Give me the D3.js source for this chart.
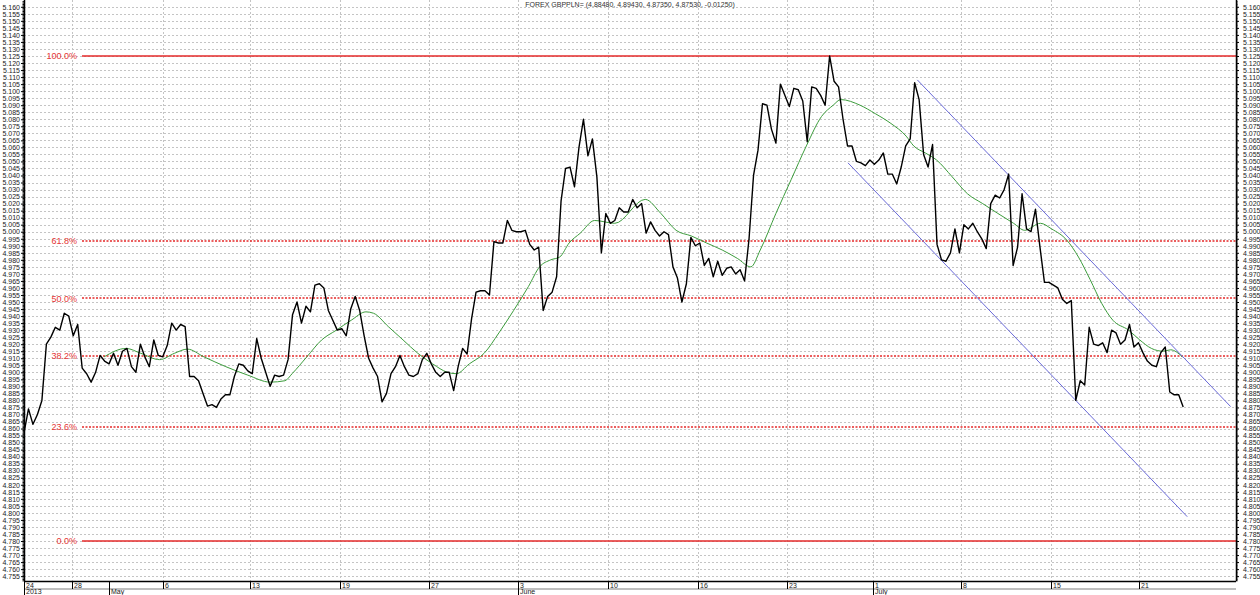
<!DOCTYPE html>
<html>
<head>
<meta charset="utf-8">
<title>FOREX GBPPLN=</title>
<script src="https://d3js.org/d3.v7.min.js"></script>
<style>
  body { margin: 0; background: #fff; }
  text { font-family: "Liberation Sans", Arial, sans-serif; }
</style>
</head>
<body>
<div id="chartContainer"></div>
<script>
var chartTitle = "FOREX GBPPLN= (4.88480, 4.89430, 4.87350, 4.87530, -0.01250)";

// close price, one value per bar (about 4 bars per trading day)
var closePrices = [
  4.857, 4.874, 4.863, 4.870, 4.880, 4.920, 4.925, 4.932, 4.930, 4.942,
  4.940, 4.926, 4.934, 4.903, 4.899, 4.893, 4.900, 4.912, 4.908, 4.906,
  4.9135, 4.905, 4.915, 4.917, 4.904, 4.900, 4.920, 4.911, 4.904, 4.923,
  4.912, 4.911, 4.919, 4.935, 4.930, 4.934, 4.9325, 4.897, 4.897, 4.894,
  4.885, 4.876, 4.877, 4.875, 4.881, 4.884, 4.884, 4.897, 4.906, 4.905,
  4.901, 4.899, 4.924, 4.910, 4.900, 4.890, 4.898, 4.897, 4.898, 4.909,
  4.941, 4.950, 4.935, 4.947, 4.943, 4.962, 4.963, 4.960, 4.944, 4.937,
  4.930, 4.931, 4.926, 4.945, 4.954, 4.944, 4.926, 4.910, 4.903, 4.897,
  4.879, 4.885, 4.899, 4.904, 4.912, 4.904, 4.898, 4.897, 4.899, 4.909,
  4.9135, 4.906, 4.900, 4.897, 4.900, 4.900, 4.887, 4.904, 4.917, 4.913,
  4.938, 4.957, 4.958, 4.958, 4.955, 4.993, 4.992, 4.992, 5.008, 5.001,
  5.000, 5.000, 5.001, 4.991, 4.987, 4.989, 4.944, 4.954, 4.957, 4.968,
  5.022, 5.045, 5.046, 5.032, 5.060, 5.080, 5.054, 5.066, 5.039, 4.985,
  5.013, 5.006, 5.008, 5.017, 5.014, 5.014, 5.023, 5.017, 5.020, 4.999,
  5.007, 5.001, 4.997, 5.000, 4.998, 4.975, 4.967, 4.950, 4.963, 4.996,
  4.990, 4.992, 4.976, 4.981, 4.968, 4.979, 4.969, 4.974, 4.975, 4.970,
  4.973, 4.965, 4.995, 5.040, 5.058, 5.091, 5.090, 5.073, 5.063, 5.105,
  5.097, 5.089, 5.102, 5.101, 5.093, 5.064, 5.103, 5.102, 5.097, 5.090,
  5.125, 5.107, 5.103, 5.080, 5.061, 5.061, 5.050, 5.049, 5.047, 5.051,
  5.048, 5.051, 5.056, 5.041, 5.041, 5.034, 5.046, 5.061, 5.066, 5.106,
  5.094, 5.055, 5.046, 5.062, 4.991, 4.980, 4.979, 4.985, 5.002, 4.985,
  5.005, 5.002, 5.006, 5.000, 4.995, 4.988, 5.020, 5.026, 5.024, 5.030,
  5.041, 4.976, 4.989, 5.027, 5.002, 5.000, 5.016, 4.989, 4.964, 4.964,
  4.962, 4.960, 4.952, 4.949, 4.951, 4.880, 4.894, 4.891, 4.932, 4.920,
  4.919, 4.921, 4.914, 4.930, 4.928, 4.920, 4.923, 4.934, 4.918, 4.921,
  4.914, 4.908, 4.905, 4.904, 4.914, 4.918, 4.886, 4.884, 4.884, 4.8753
];

// green moving average at these bars
var maBars = [17.9, 22.8, 26.1, 30.3, 33.6, 36.5, 40.2, 45.1, 50.0, 55.0,
  58.3, 59.9, 63.2, 66.5, 69.8, 73.1, 76.4, 78.1, 81.4, 84.7,
  88.0, 91.3, 94.6, 96.6, 99.5, 102.8, 106.1, 109.4, 112.7, 115.2,
  117.7, 119.7, 121.8, 124.3, 127.5, 132.0, 138.8, 142.3, 145.7, 149.1,
  152.5, 156.0, 159.4, 162.4, 164.5, 168.0, 171.4, 174.8, 178.2, 180.8,
  182.5, 186.8, 190.2, 193.7, 197.1, 198.8, 201.4, 203.9, 207.4, 210.8,
  214.2, 217.6, 221.1, 223.6, 227.1, 229.6, 233.0, 235.6, 238.2, 240.8,
  243.3, 246.8, 249.3, 251.9, 254.5, 256.2, 258.8];
var maValues = [4.911, 4.917, 4.9135, 4.909, 4.9135, 4.9165, 4.911, 4.904, 4.898, 4.893,
  4.894, 4.899, 4.911, 4.923, 4.930, 4.937, 4.943, 4.942, 4.9325, 4.923,
  4.9135, 4.906, 4.900, 4.899, 4.906, 4.9135, 4.928, 4.944, 4.961, 4.975,
  4.980, 4.982, 4.992, 4.999, 5.008, 5.006, 5.023, 5.013, 5.001, 4.997,
  4.992, 4.987, 4.981, 4.975, 4.987, 5.013, 5.037, 5.061, 5.082, 5.090,
  5.094, 5.090, 5.084, 5.077, 5.068, 5.061, 5.056, 5.051, 5.039, 5.027,
  5.020, 5.013, 5.006, 5.001, 5.006, 5.002, 4.994, 4.982, 4.966, 4.949,
  4.937, 4.930, 4.923, 4.917, 4.915, 4.916, 4.911];

// fibonacci retracement between these two prices
var fibLow = 4.780, fibHigh = 5.125;
var fibRatios = [0, 0.236, 0.382, 0.5, 0.618, 1];
var fibLabels = ["0.0%", "23.6%", "38.2%", "50.0%", "61.8%", "100.0%"];

// falling channel (blue), two end points each
var channelUpperBars = [199.6, 269.6];
var channelUpperValues = [5.108, 4.8756];
var channelLowerBars = [184.1, 259.9];
var channelLowerValues = [5.049, 4.7973];

// x axis ticks
var weekTickBars = [0, 10.7, 31.1, 50.6, 70.6, 90.5, 110.4, 130.4, 150.5, 170.4, 189.8, 209.4, 229.4, 249.2];
var weekTickLabels = ["24", "28", "6", "13", "19", "27", "3", "10", "16", "23", "1", "8", "15", "21"];
var monthTickBars = [0, 19.0, 110.4, 189.8];
var monthTickLabels = ["2013", "May", "June", "July"];

// y axis ticks
var yTickFirst = 4.755, yTickLast = 5.160, yTickStep = 0.005, yMinorStep = 0.001;

var cfg = {
  w: 1260,
  h: 595,
  left: 24,
  right: 1236,
  top: 0,
  bot: 581,
  barMax: 270.8,
  yMin: 4.75155,
  yMax: 5.16483
};

function translate(x, y) {
  return "translate(" + x + "," + y + ")";
}

var svg = d3.select("#chartContainer")
  .append("svg")
  .attr("width", cfg.w)
  .attr("height", cfg.h)
  .style("display", "block");

var xScale = d3.scaleLinear()
  .domain([0, cfg.barMax])
  .range([cfg.left, cfg.right]);

var yScale = d3.scaleLinear()
  .domain([cfg.yMin, cfg.yMax])
  .range([cfg.bot, cfg.top]);

var yTicks = d3.range(Math.round(yTickFirst * 1000), Math.round(yTickLast * 1000) + 1, yTickStep * 1000)
  .map(function(d) { return d / 1000; });
var yMinor = d3.range(Math.round(4.752 * 1000), Math.round(5.164 * 1000) + 1, yMinorStep * 1000)
  .map(function(d) { return d / 1000; });

// grid
var grid = svg.append("g").attr("class", "grid");

grid.selectAll(".hGrid")
  .data(yTicks)
  .enter()
  .append("line")
  .attr("class", "hGrid")
  .attr("x1", cfg.left)
  .attr("x2", cfg.right)
  .attr("y1", function(d) { return Math.round(yScale(d)) + 0.5; })
  .attr("y2", function(d) { return Math.round(yScale(d)) + 0.5; })
  .style("stroke", "#c4c4c4")
  .style("stroke-width", 1)
  .style("stroke-dasharray", "2,2");

grid.selectAll(".vGrid")
  .data(weekTickBars.slice(1))
  .enter()
  .append("line")
  .attr("class", "vGrid")
  .attr("x1", function(d) { return Math.round(xScale(d)) + 0.5; })
  .attr("x2", function(d) { return Math.round(xScale(d)) + 0.5; })
  .attr("y1", cfg.top)
  .attr("y2", cfg.bot)
  .style("stroke", "#c4c4c4")
  .style("stroke-width", 1)
  .style("stroke-dasharray", "2,2");

// title
svg.append("text")
  .attr("x", 630)
  .attr("y", 7)
  .attr("text-anchor", "middle")
  .style("font-size", "7px")
  .style("fill", "#333")
  .text(chartTitle);

// fibonacci levels
var fibG = svg.append("g").attr("class", "fib");
var fibData = fibRatios.map(function(r, i) {
  return { price: fibLow + r * (fibHigh - fibLow), label: fibLabels[i], solid: (r == 0 || r == 1) };
});

// not pixel snapped: a 1px line on a single row loses its red in the photo
fibG.selectAll(".fibLine")
  .data(fibData)
  .enter()
  .append("line")
  .attr("class", "fibLine")
  .attr("x1", 82)
  .attr("x2", cfg.right)
  .attr("y1", function(d) { return Math.round(yScale(d.price)); })
  .attr("y2", function(d) { return Math.round(yScale(d.price)); })
  .style("stroke", "#e52a2a")
  .style("stroke-width", function(d) { return d.solid ? 1.4 : 1.3; })
  .style("stroke-dasharray", function(d) { return d.solid ? null : "2,1.5"; });

fibG.selectAll(".fibLabel")
  .data(fibData)
  .enter()
  .append("text")
  .attr("class", "fibLabel")
  .attr("x", 77)
  .attr("y", function(d) { return yScale(d.price); })
  .attr("dy", "0.35em")
  .attr("text-anchor", "end")
  .style("font-size", "9px")
  .style("fill", "#e53535")
  .text(function(d) { return d.label; });

// moving average
var maData = maBars.map(function(b, i) { return { bar: b, value: maValues[i] }; });
svg.append("path")
  .datum(maData)
  .attr("d", d3.line()
    .x(function(d) { return xScale(d.bar); })
    .y(function(d) { return yScale(d.value); })
    .curve(d3.curveMonotoneX))
  .style("fill", "none")
  .style("stroke", "#3c9c3c")
  .style("stroke-width", 1);

// channel lines
function drawChannel(bars, values) {
  svg.append("line")
    .attr("x1", xScale(bars[0]))
    .attr("y1", yScale(values[0]))
    .attr("x2", xScale(bars[1]))
    .attr("y2", yScale(values[1]))
    .style("stroke", "#6a6ad8")
    .style("stroke-width", 1);
}
drawChannel(channelUpperBars, channelUpperValues);
drawChannel(channelLowerBars, channelLowerValues);

// price line
svg.append("path")
  .datum(closePrices)
  .attr("d", d3.line()
    .x(function(d, i) { return xScale(i); })
    .y(function(d) { return yScale(d); }))
  .style("fill", "none")
  .style("stroke", "#000")
  .style("stroke-width", 1.4)
  .style("stroke-linejoin", "round");

// y axes (left and right)
var yAxisLeft = d3.axisLeft(yScale).tickValues(yTicks).tickSize(3).tickPadding(1).tickFormat(d3.format(".3f"));
var yAxisRight = d3.axisRight(yScale).tickValues(yTicks).tickSize(3).tickPadding(4).tickFormat(d3.format(".3f"));
var yMinorLeft = d3.axisLeft(yScale).tickValues(yMinor).tickSize(1.5).tickFormat("");
var yMinorRight = d3.axisRight(yScale).tickValues(yMinor).tickSize(1.5).tickFormat("");

function styleAxis(g) {
  g.select(".domain").remove();
  g.selectAll("line").style("stroke", "#000");
  g.selectAll("text").style("font-size", "7px").style("font-family", "Liberation Sans, Arial, sans-serif").style("fill", "#222");
}

svg.append("g").attr("transform", translate(cfg.left, 0)).call(yMinorLeft).call(styleAxis);
svg.append("g").attr("transform", translate(cfg.left, 0)).call(yAxisLeft).call(styleAxis);
svg.append("g").attr("transform", translate(cfg.right, 0)).call(yMinorRight).call(styleAxis);
svg.append("g").attr("transform", translate(cfg.right, 0)).call(yAxisRight).call(styleAxis);

svg.append("line")
  .attr("x1", cfg.left + 0.5).attr("x2", cfg.left + 0.5)
  .attr("y1", 0).attr("y2", cfg.bot)
  .style("stroke", "#000").style("stroke-width", 1.5);
svg.append("line")
  .attr("x1", cfg.right + 0.5).attr("x2", cfg.right + 0.5)
  .attr("y1", 0).attr("y2", cfg.bot)
  .style("stroke", "#000").style("stroke-width", 1.5);

// x axis
var xAxisG = svg.append("g").attr("class", "xAxis");

xAxisG.append("line")
  .attr("x1", cfg.left).attr("x2", cfg.right)
  .attr("y1", cfg.bot + 0.5).attr("y2", cfg.bot + 0.5)
  .style("stroke", "#000").style("stroke-width", 1.5);

xAxisG.append("line")
  .attr("x1", cfg.left).attr("x2", cfg.right)
  .attr("y1", cfg.bot + 8).attr("y2", cfg.bot + 8)
  .style("stroke", "#a8a8a8").style("stroke-width", 1.5);

xAxisG.selectAll(".weekTick")
  .data(weekTickBars)
  .enter()
  .append("line")
  .attr("class", "weekTick")
  .attr("x1", function(d) { return Math.round(xScale(d)) + 0.5; })
  .attr("x2", function(d) { return Math.round(xScale(d)) + 0.5; })
  .attr("y1", cfg.bot)
  .attr("y2", cfg.bot + 8)
  .style("stroke", "#000");

xAxisG.selectAll(".weekLabel")
  .data(weekTickBars)
  .enter()
  .append("text")
  .attr("class", "weekLabel")
  .attr("x", function(d) { return Math.round(xScale(d)) + 2; })
  .attr("y", cfg.bot + 7)
  .style("font-size", "7px")
  .style("fill", "#222")
  .text(function(d, i) { return weekTickLabels[i]; });

xAxisG.selectAll(".monthTick")
  .data(monthTickBars)
  .enter()
  .append("line")
  .attr("class", "monthTick")
  .attr("x1", function(d) { return Math.round(xScale(d)) + 0.5; })
  .attr("x2", function(d) { return Math.round(xScale(d)) + 0.5; })
  .attr("y1", cfg.bot)
  .attr("y2", cfg.h)
  .style("stroke", "#000");

xAxisG.selectAll(".monthLabel")
  .data(monthTickBars)
  .enter()
  .append("text")
  .attr("class", "monthLabel")
  .attr("x", function(d) { return Math.round(xScale(d)) + 2; })
  .attr("y", cfg.h - 1)
  .style("font-size", "7px")
  .style("fill", "#222")
  .text(function(d, i) { return monthTickLabels[i]; });
</script>
</body>
</html>
